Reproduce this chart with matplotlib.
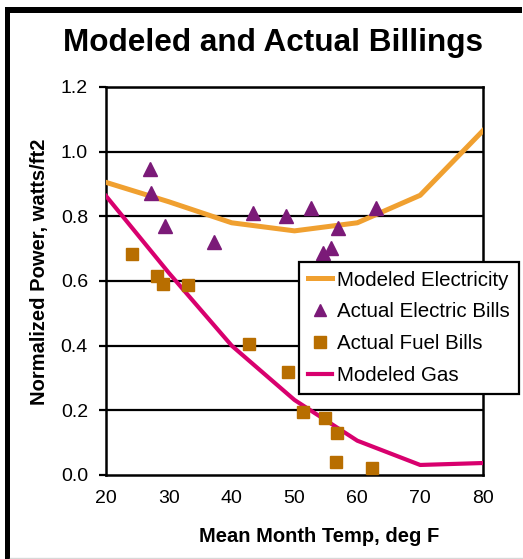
import matplotlib
matplotlib.use("Agg")
import matplotlib.pyplot as plt
from matplotlib.lines import Line2D
from matplotlib.patches import Rectangle

plt.rcParams["font.family"] = ["Liberation Sans", "DejaVu Sans"]

# modeled curves
model_temp = [20, 30, 40, 50, 60, 70, 80]
model_elec = [0.905, 0.845, 0.78, 0.755, 0.78, 0.865, 1.065]
model_gas = [0.863, 0.625, 0.40, 0.232, 0.106, 0.031, 0.037]

# actual electric bills
elec_temp = [27.0, 27.1, 29.4, 37.2, 43.4, 48.6, 52.6, 54.5, 55.8, 56.9, 62.9]
elec_bill = [0.945, 0.873, 0.771, 0.72, 0.811, 0.801, 0.825, 0.686, 0.701, 0.765, 0.827]

# actual fuel bills
fuel_temp = [24.2, 28.1, 29.0, 33.0, 42.8, 48.9, 51.4, 54.9, 56.8, 56.6, 62.3]
fuel_bill = [0.683, 0.615, 0.591, 0.588, 0.405, 0.320, 0.196, 0.177, 0.129, 0.041, 0.021]

c_elec = "#F0A030"
c_tri = "#7B1A78"
c_sq = "#B86E00"
c_gas = "#D8006E"

fig = plt.figure(figsize=(5.23, 5.59), dpi=100)
ax = fig.add_axes([0.2027, 0.1503, 0.7208, 0.6941])

for y in [0.2, 0.4, 0.6, 0.8, 1.0, 1.2]:
    ax.axhline(y, color="black", lw=1.6, zorder=1)

ax.plot(model_temp, model_elec, color=c_elec, lw=3.6, label="Modeled Electricity", zorder=3, solid_joinstyle="round")
ax.plot(elec_temp, elec_bill, ls="none", marker="^", ms=10, color=c_tri, label="Actual Electric Bills", zorder=4)
ax.plot(fuel_temp, fuel_bill, ls="none", marker="s", ms=8.5, color=c_sq, label="Actual Fuel Bills", zorder=4)
ax.plot(model_temp, model_gas, color=c_gas, lw=3.0, label="Modeled Gas", zorder=3, solid_joinstyle="round")

ax.set_xlim(20, 80)
ax.set_ylim(0, 1.2)
ax.set_xticks([20, 30, 40, 50, 60, 70, 80])
ax.set_yticks([0.0, 0.2, 0.4, 0.6, 0.8, 1.0, 1.2])
ax.set_yticklabels(["0.0", "0.2", "0.4", "0.6", "0.8", "1.0", "1.2"])
ax.tick_params(axis="x", length=0, pad=11, labelsize=14)
ax.tick_params(axis="y", length=5, width=1.6, direction="out", pad=8, labelsize=14)
for s in ax.spines.values():
    s.set_linewidth(1.8)

fig.text(319 / 523, 1 - 536 / 559, "Mean Month Temp, deg F", ha="center", va="center",
         fontsize=14.5, fontweight="bold")
fig.text(40 / 523, 1 - 272 / 559, "Normalized Power, watts/ft2", ha="center", va="center",
         rotation=90, fontsize=14.5, fontweight="bold")
fig.text(273 / 523, 1 - 43 / 559, "Modeled and Actual Billings", ha="center", va="center",
         fontsize=22.7, fontweight="bold")

leg = ax.legend(loc="upper left", bbox_to_anchor=(299 / 523, 1 - 262 / 559),
                bbox_transform=fig.transFigure, borderaxespad=0, fontsize=14.8,
                frameon=True, fancybox=False, framealpha=1, edgecolor="black",
                borderpad=0.42, labelspacing=0.62, handlelength=1.2, handletextpad=0.25)
leg.get_frame().set_linewidth(1.6)
leg.legend_handles[1].set_markersize(8)
leg.legend_handles[2].set_markersize(9)

# outer frame decorations
fig.add_artist(Rectangle((5 / 523, 0), 5 / 523, 1 - 7 / 559, transform=fig.transFigure,
                         color="black", lw=0))
fig.add_artist(Rectangle((5 / 523, 1 - 13 / 559), 517 / 523, 6 / 559, transform=fig.transFigure,
                         color="black", lw=0))
fig.add_artist(Line2D([10 / 523, 1], [1.5 / 559, 1.5 / 559], transform=fig.transFigure,
                      color="#d8d8d8", lw=1))

fig.savefig("out.png", dpi=100)
